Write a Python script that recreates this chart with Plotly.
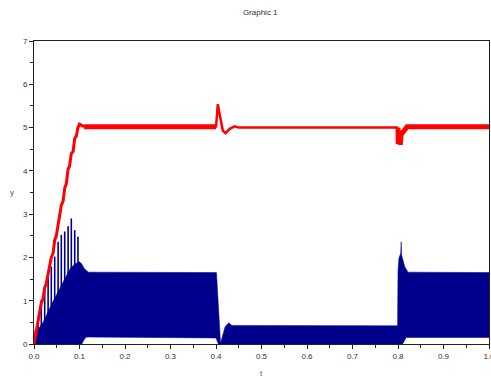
import plotly.graph_objects as go

# ---- data ----
# blue signal: solid band envelopes
blue_upper_t = [0.0, 0.002, 0.007, 0.02, 0.04, 0.06, 0.08, 0.09, 0.1, 0.105, 0.11, 0.115, 0.12,
                0.401, 0.405, 0.41, 0.42, 0.428, 0.435, 0.799, 0.8, 0.802, 0.806, 0.807, 0.808,
                0.81, 0.815, 0.822, 1.0]
blue_upper_v = [0.0, 0.32, 0.32, 0.5, 0.95, 1.35, 1.75, 1.85, 1.9, 1.85, 1.75, 1.7, 1.66,
                1.65, 0.9, 0.02, 0.4, 0.49, 0.43, 0.42, 1.7, 1.98, 2.1, 2.36, 2.05,
                1.95, 1.78, 1.66, 1.65]
blue_lower_t = [0.0, 0.105, 0.11, 0.115, 0.4, 0.405, 0.81, 0.818, 1.0]
blue_lower_v = [0.0, 0.0, 0.1, 0.16, 0.14, 0.0, 0.0, 0.15, 0.15]

# blue start-up spikes
spike_t = [0.009, 0.016, 0.0235, 0.031, 0.038, 0.0455, 0.053, 0.060, 0.0675, 0.075, 0.082, 0.0895, 0.0967]
spike_v = [0.63, 1.02, 1.32, 1.55, 1.79, 2.02, 2.36, 2.52, 2.6, 2.72, 2.90, 2.63, 2.48]

# red signal segments
red_ramp_t = [0.0, 0.005, 0.009, 0.012, 0.016, 0.02, 0.0235, 0.027, 0.031, 0.034, 0.038, 0.042,
              0.0455, 0.049, 0.053, 0.056, 0.060, 0.064, 0.0675, 0.071, 0.075, 0.078, 0.082,
              0.086, 0.0895, 0.093, 0.0967, 0.1, 0.105, 0.11]
red_ramp_v = [0.0, 0.3, 0.55, 0.7, 0.95, 1.05, 1.3, 1.4, 1.65, 1.75, 2.0, 2.1, 2.4, 2.5, 2.8,
              2.9, 3.2, 3.3, 3.6, 3.7, 4.05, 4.1, 4.4, 4.45, 4.75, 4.8, 5.0, 5.08, 5.04, 5.02]
red_s2_t = [0.11, 0.4]
red_s2_v = [5.02, 5.02]
red_s3_t = [0.4, 0.404, 0.41, 0.415, 0.421, 0.43, 0.441, 0.45, 0.8]
red_s3_v = [5.0, 5.54, 5.2, 4.93, 4.87, 4.97, 5.03, 5.0, 5.0]
red_s4_t = [0.8, 0.8005, 0.803, 0.805, 0.807, 0.81, 0.815, 0.82, 1.0]
red_s4_v = [5.0, 4.62, 4.9, 4.6, 4.88, 4.88, 4.95, 5.02, 5.02]

x_ticks = [0.0, 0.1, 0.2, 0.3, 0.4, 0.5, 0.6, 0.7, 0.8, 0.9, 1.0]
x_labels = ["0.0", "0.1", "0.2", "0.3", "0.4", "0.5", "0.6", "0.7", "0.8", "0.9", "1.0"]
y_ticks = [0, 1, 2, 3, 4, 5, 6, 7]

BLUE = "rgb(0,0,140)"
RED = "rgb(255,0,0)"
FONT = "Liberation Sans, Arial"

fig = go.Figure()

# blue band
fig.add_trace(go.Scatter(
    x=blue_upper_t + blue_lower_t[::-1],
    y=blue_upper_v + blue_lower_v[::-1],
    fill="toself", fillcolor=BLUE, mode="lines",
    line=dict(color=BLUE, width=0.5), hoverinfo="skip", showlegend=False))

# spikes
sx, sy = [], []
for t, v in zip(spike_t, spike_v):
    sx += [t, t, None]
    sy += [0, v, None]
fig.add_trace(go.Scatter(x=sx, y=sy, mode="lines",
                         line=dict(color=BLUE, width=1.6), showlegend=False))

# red segments
for tt, vv, w in [(red_ramp_t, red_ramp_v, 3), (red_s2_t, red_s2_v, 5),
                  (red_s3_t, red_s3_v, 2.5), (red_s4_t, red_s4_v, 5)]:
    fig.add_trace(go.Scatter(x=tt, y=vv, mode="lines",
                             line=dict(color=RED, width=w), showlegend=False))

axis_common = dict(showgrid=False, zeroline=False, showline=True, linecolor="#222",
                   linewidth=1, mirror=True, ticks="outside", ticklen=4,
                   tickcolor="#222", ticklabeloverflow="allow", automargin=False,
                   tickfont=dict(size=8, color="#333", family=FONT))

fig.update_layout(
    width=491, height=377,
    margin=dict(l=34, r=2, t=41, b=33, autoexpand=False),
    paper_bgcolor="white", plot_bgcolor="white",
    showlegend=False,
    title=dict(text="Graphic 1", x=0.53, xanchor="center", y=1 - 12 / 377,
               yanchor="middle", yref="container",
               font=dict(size=8, color="#333", family=FONT)),
    xaxis=dict(range=[0, 1], tickvals=x_ticks, ticktext=x_labels,
               minor=dict(dtick=0.05, ticks="outside", ticklen=3, tickcolor="#222"),
               **axis_common),
    yaxis=dict(range=[0, 7], tickvals=y_ticks,
               minor=dict(dtick=0.5, ticks="outside", ticklen=3, tickcolor="#222"),
               **axis_common),
    annotations=[
        dict(text="t", x=0.5, xref="paper", y=(344 - 373) / 303, yref="paper",
             yanchor="middle", showarrow=False,
             font=dict(size=8, color="#555", family=FONT)),
        dict(text="y", x=(12 - 34) / 455, xref="paper", xanchor="center",
             y=0.5, yref="paper", yanchor="middle",
             showarrow=False, font=dict(size=8, color="#555", family=FONT)),
    ],
)

fig.write_html("out.html")
